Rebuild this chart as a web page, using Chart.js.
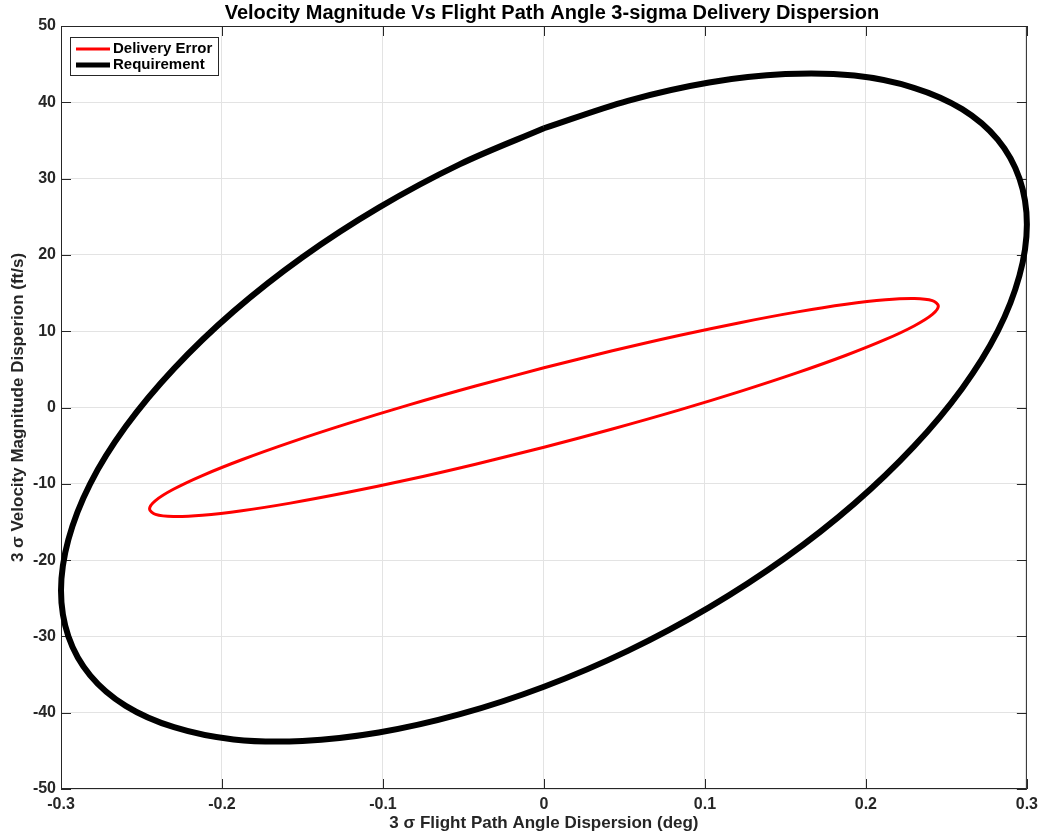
<!DOCTYPE html>
<html>
<head>
<meta charset="utf-8">
<script src="https://cdn.jsdelivr.net/npm/chart.js@4.4.0/dist/chart.umd.min.js"></script>
<style>
  body { margin: 0; background: #fff; }
  #wrap { width: 1044px; height: 835px; position: relative; }
</style>
</head>
<body>
<div id="wrap"><canvas id="grafico"></canvas></div>
<script>
// ========================
// Dados
// ========================
const xTicks = [-0.3, -0.2, -0.1, 0, 0.1, 0.2, 0.3];
const yTicks = [-50, -40, -30, -20, -10, 0, 10, 20, 30, 40, 50];
const titulo = "Velocity Magnitude Vs Flight Path Angle 3-sigma Delivery Dispersion";

// Requirement (elipse preta)
const reqX = [0, -0.0521, -0.1026, -0.150, -0.1928, -0.2298, -0.2598, -0.2819, -0.2954, -0.300,
  -0.2954, -0.2819, -0.2598, -0.2298, -0.1928, -0.150, -0.1026, -0.0521, 0, 0.0521, 0.1026,
  0.150, 0.1928, 0.2298, 0.2598, 0.2819, 0.2954, 0.300, 0.2954, 0.2819, 0.2598, 0.2298,
  0.1928, 0.150, 0.1026, 0.0521, 0];
const reqY = [36.6, 31.9, 26.2, 19.7, 12.6, 5.1, -2.5, -10.0, -17.3, -24.0, -30.0, -35.1,
  -39.1, -41.9, -43.5, -43.7, -42.6, -40.2, -36.6, -31.9, -26.2, -19.7, -12.6, -5.1, 2.5,
  10.0, 17.3, 24.0, 30.0, 35.1, 39.1, 41.9, 43.5, 43.7, 42.6, 40.2, 36.6];

// Delivery Error (elipse vermelha)
const errX = [0, -0.0425, -0.0838, -0.1225, -0.1575, -0.1877, -0.2122, -0.2302, -0.2413, -0.245,
  -0.2413, -0.2302, -0.2122, -0.1877, -0.1575, -0.1225, -0.0838, -0.0425, 0, 0.0425, 0.0838,
  0.1225, 0.1575, 0.1877, 0.2122, 0.2302, 0.2413, 0.245, 0.2413, 0.2302, 0.2122, 0.1877,
  0.1575, 0.1225, 0.0838, 0.0425, 0];
const errY = [5.2, 2.81, 0.34, -2.15, -4.57, -6.85, -8.92, -10.72, -12.2, -13.3, -14.0, -14.28,
  -14.12, -13.53, -12.53, -11.15, -9.44, -7.43, -5.2, -2.81, -0.34, 2.15, 4.57, 6.85, 8.92,
  10.72, 12.2, 13.3, 14.0, 14.28, 14.12, 13.53, 12.53, 11.15, 9.44, 7.43, 5.2];

const FONTE = "'Liberation Sans', Arial, Helvetica, sans-serif";
const EIXO = "#262626";

// ========================
// Moldura, ticks internos, título e legenda (estilo MATLAB)
// ========================
const molduraPlugin = {
  id: "moldura",
  beforeDatasetsDraw(chart) {
    const { ctx, chartArea: a, scales } = chart;
    ctx.save();
    ctx.strokeStyle = EIXO;
    ctx.lineWidth = 1;
    ctx.strokeRect(a.left + 0.5, a.top + 0.5, a.width - 1, a.height - 1);
    ctx.beginPath();
    xTicks.forEach(v => {
      const px = Math.round(scales.x.getPixelForValue(v)) + 0.5;
      ctx.moveTo(px, a.bottom); ctx.lineTo(px, a.bottom - 10);
      ctx.moveTo(px, a.top); ctx.lineTo(px, a.top + 10);
    });
    yTicks.forEach(v => {
      const py = Math.round(scales.y.getPixelForValue(v)) + 0.5;
      ctx.moveTo(a.left, py); ctx.lineTo(a.left + 10, py);
      ctx.moveTo(a.right, py); ctx.lineTo(a.right - 10, py);
    });
    ctx.stroke();
    ctx.restore();
  },
  afterDraw(chart) {
    const { ctx, chartArea: a } = chart;
    ctx.save();
    // título centrado sobre a área do gráfico
    ctx.fillStyle = "#000";
    ctx.font = "bold 20px " + FONTE;
    ctx.textAlign = "center";
    ctx.textBaseline = "middle";
    ctx.fillText(titulo, (a.left + a.right) / 2 + 8, 13);

    // legenda dentro do gráfico, canto superior esquerdo
    const bx = a.left + 9, by = a.top + 11, bw = 148, bh = 38;
    ctx.fillStyle = "#fff";
    ctx.fillRect(bx, by, bw, bh);
    ctx.strokeStyle = EIXO;
    ctx.lineWidth = 1;
    ctx.strokeRect(bx + 0.5, by + 0.5, bw, bh);
    ctx.font = "bold 15px " + FONTE;
    ctx.textAlign = "left";
    chart.data.datasets.forEach((ds, i) => {
      const y = by + 12 + i * 16;
      ctx.strokeStyle = ds.borderColor;
      ctx.lineWidth = i === 0 ? 3 : 5;
      ctx.beginPath();
      ctx.moveTo(bx + 6, y);
      ctx.lineTo(bx + 40, y);
      ctx.stroke();
      ctx.fillStyle = "#000";
      ctx.fillText(ds.label, bx + 43, y);
    });
    ctx.restore();
  }
};

// ========================
// Gráfico
// ========================
const ctx = document.getElementById("grafico").getContext("2d");
new Chart(ctx, {
  type: "scatter",
  data: {
    datasets: [
      {
        label: "Delivery Error",
        data: errX.map((x, i) => ({ x: x, y: errY[i] })),
        showLine: true,
        borderColor: "#ff0000",
        borderWidth: 3,
        pointRadius: 0,
        tension: 0.33,
        clip: false
      },
      {
        label: "Requirement",
        data: reqX.map((x, i) => ({ x: x, y: reqY[i] })),
        showLine: true,
        borderColor: "#000000",
        borderWidth: 6,
        pointRadius: 0,
        tension: 0.33,
        clip: false
      }
    ]
  },
  options: {
    responsive: true,
    maintainAspectRatio: false,
    animation: false,
    layout: { padding: { left: 0, right: 16, top: 26, bottom: 0 } },
    plugins: {
      legend: { display: false },
      tooltip: { enabled: false },
      title: { display: false }
    },
    scales: {
      x: {
        type: "linear",
        min: -0.3,
        max: 0.3,
        afterBuildTicks: s => { s.ticks = xTicks.map(v => ({ value: v })); },
        afterFit: s => { s.height = 46; },
        grid: { color: "#e3e3e3", drawTicks: false },
        border: { display: false },
        ticks: {
          padding: 6,
          color: EIXO,
          font: { family: FONTE, size: 16, weight: "bold" },
          callback: v => String(Math.round(v * 10) / 10)
        },
        title: {
          display: true,
          text: "3 σ Flight Path Angle Dispersion (deg)",
          color: EIXO,
          padding: { top: 0, bottom: 1 },
          font: { family: FONTE, size: 17, weight: "bold" }
        }
      },
      y: {
        type: "linear",
        min: -50,
        max: 50,
        afterBuildTicks: s => { s.ticks = yTicks.map(v => ({ value: v })); },
        afterFit: s => { s.width = 61; },
        grid: { color: "#e3e3e3", drawTicks: false },
        border: { display: false },
        ticks: {
          padding: 5,
          color: EIXO,
          font: { family: FONTE, size: 16, weight: "bold" }
        },
        title: {
          display: true,
          text: "3 σ Velocity Magnitude Disperion (ft/s)",
          color: EIXO,
          padding: { top: 8, bottom: 0 },
          font: { family: FONTE, size: 17, weight: "bold" }
        }
      }
    }
  },
  plugins: [molduraPlugin]
});
</script>
</body>
</html>
